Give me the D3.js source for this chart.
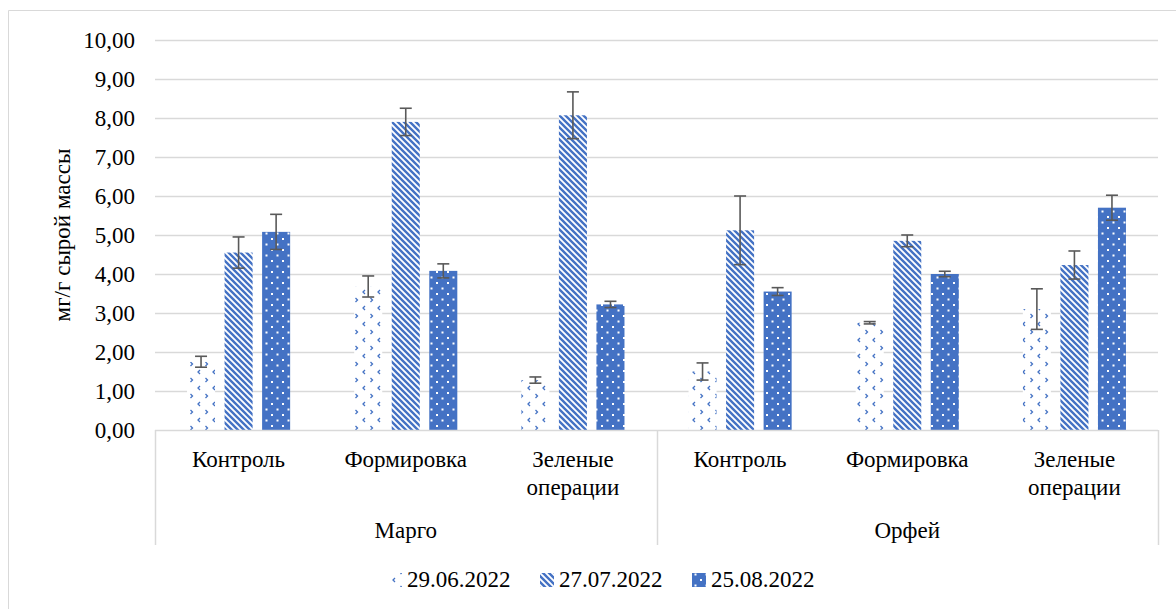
<!DOCTYPE html>
<html><head><meta charset="utf-8">
<script src="https://cdn.jsdelivr.net/npm/d3@7"></script>
<style>
html,body{margin:0;padding:0;background:#fff;}
svg text{font-family:"Liberation Serif","Tinos","Times New Roman","DejaVu Serif",serif;}
</style></head>
<body>
<svg id="c" width="1176" height="609" style="display:block" font-family="Liberation Serif, serif"></svg>
<script>
const groups = ["Марго", "Орфей"];
const categories = ["Контроль", "Формировка", "Зеленые операции"];
const seriesNames = ["29.06.2022", "27.07.2022", "25.08.2022"];
const s1 = [1.75, 3.68, 1.28, 1.50, 2.75, 3.10];
const e1 = [0.14, 0.27, 0.08, 0.22, 0.03, 0.52];
const s2 = [4.55, 7.90, 8.07, 5.12, 4.85, 4.23];
const e2 = [0.40, 0.35, 0.60, 0.88, 0.15, 0.36];
const s3 = [5.08, 4.08, 3.22, 3.55, 4.00, 5.70];
const e3 = [0.45, 0.18, 0.08, 0.10, 0.07, 0.32];
const yTicks = [0,1,2,3,4,5,6,7,8,9,10];

(function(){
const svg = d3.select("#c");
const W = 1176, H = 609;
const pLeft = 155, pRight = 1158, pTop = 40, pBottom = 430;
const blue = "#4472C4";
const FF = "Liberation Serif";

const defs = svg.append("defs");
const p1 = defs.append("pattern").attr("id","pat0").attr("patternUnits","userSpaceOnUse")
  .attr("width",15).attr("height",16);
p1.append("rect").attr("width",15).attr("height",16).attr("fill","#fff");
p1.append("path").attr("d","M5,2 L3,4 L5,6").attr("fill","none").attr("stroke",blue).attr("stroke-width",1.3);
p1.append("path").attr("d","M10.5,10 L12.5,12 L10.5,14").attr("fill","none").attr("stroke",blue).attr("stroke-width",1.3);

const p2 = defs.append("pattern").attr("id","pat1").attr("patternUnits","userSpaceOnUse")
  .attr("width",6).attr("height",6);
p2.append("rect").attr("width",6).attr("height",6).attr("fill","#fff");
p2.append("path").attr("d","M-1,-1 L7,7 M-4,2 L2,8 M2,-4 L8,2").attr("stroke",blue).attr("stroke-width",2.4);

const p3 = defs.append("pattern").attr("id","pat2").attr("patternUnits","userSpaceOnUse")
  .attr("width",11).attr("height",11);
p3.append("rect").attr("width",11).attr("height",11).attr("fill",blue);
p3.append("rect").attr("x",1.5).attr("y",1.5).attr("width",2).attr("height",2).attr("fill","#fff");
p3.append("rect").attr("x",7).attr("y",7).attr("width",2).attr("height",2).attr("fill","#fff");

svg.append("path").attr("d",`M8.5,${H+5} L8.5,10.5 L${W+5},10.5`).attr("fill","none").attr("stroke","#d9d9d9").attr("stroke-width",1);

const y = d3.scaleLinear().domain([0,10]).range([pBottom, pTop]);
const x = d3.scaleBand().domain(d3.range(6)).range([pLeft, pRight]).padding(0);
const xs = d3.scaleBand().domain([0,1,2]).range([0, x.bandwidth()]).paddingInner(0.253).paddingOuter(0.853);

svg.append("g").selectAll("line").data(yTicks.filter(d=>d>0)).join("line")
  .attr("x1",pLeft).attr("x2",pRight).attr("y1",d=>y(d)+0.5).attr("y2",d=>y(d)+0.5)
  .attr("stroke","#d9d9d9").attr("stroke-width",1.3);

const fmt = d => d.toFixed(2).replace(".", ",");
svg.append("g").selectAll("text").data(yTicks).join("text")
  .attr("x",135).attr("y",d=>y(d)).attr("dy","0.33em").attr("text-anchor","end")
  .attr("font-family",FF).attr("font-size",23).attr("fill","#000").text(fmt);

svg.append("text").attr("transform","translate(70,235) rotate(-90)").attr("text-anchor","middle")
  .attr("font-family",FF).attr("font-size",23).attr("fill","#000").text("мг/г сырой массы");

const series = [s1, s2, s3];
const errs = [e1, e2, e3];
series.forEach((vals, si) => {
  const g = svg.append("g");
  g.selectAll("rect").data(vals).join("rect")
    .attr("x",(d,i)=>x(i)+xs(si)).attr("width",xs.bandwidth())
    .attr("y",d=>y(d)).attr("height",d=>pBottom-y(d))
    .attr("fill",`url(#pat${si})`);
});

svg.append("line").attr("x1",pLeft).attr("x2",pRight).attr("y1",pBottom+0.5).attr("y2",pBottom+0.5)
  .attr("stroke","#d9d9d9").attr("stroke-width",1.5);
[pLeft, (pLeft+pRight)/2, pRight].forEach(xx => {
  svg.append("line").attr("x1",Math.round(xx)+0.5).attr("x2",Math.round(xx)+0.5)
    .attr("y1",pBottom).attr("y2",545).attr("stroke","#d9d9d9").attr("stroke-width",1.5);
});

series.forEach((vals, si) => {
  const g = svg.append("g").attr("stroke","#595959").attr("stroke-width",1.6).attr("fill","none");
  vals.forEach((v,i) => {
    const cx = x(i)+xs(si)+xs.bandwidth()/2;
    const e = errs[si][i];
    const y1 = y(v+e), y2 = y(v-e);
    g.append("line").attr("x1",cx).attr("x2",cx).attr("y1",y1).attr("y2",y2);
    g.append("line").attr("x1",cx-6).attr("x2",cx+6).attr("y1",y1).attr("y2",y1);
    g.append("line").attr("x1",cx-6).attr("x2",cx+6).attr("y1",y2).attr("y2",y2);
  });
});

const catLabels = d3.range(6).map(i => categories[i % 3]);
catLabels.forEach((lab, i) => {
  const cx = x(i) + x.bandwidth()/2;
  lab.split(" ").forEach((w, k) => {
    svg.append("text").attr("x",cx).attr("y",467 + k*28).attr("text-anchor","middle")
      .attr("font-family",FF).attr("font-size",23).attr("fill","#000").text(w);
  });
});
groups.forEach((gname, gi) => {
  const cx = (x(gi*3) + x(gi*3+2) + x.bandwidth())/2;
  svg.append("text").attr("x",cx).attr("y",538).attr("text-anchor","middle")
    .attr("font-family",FF).attr("font-size",23).attr("fill","#000").text(gname);
});

const legX = [388, 540, 692];
seriesNames.forEach((n, si) => {
  svg.append("rect").attr("x",legX[si]).attr("y",573).attr("width",14).attr("height",14)
    .attr("fill",`url(#pat${si})`);
  svg.append("text").attr("x",legX[si]+19).attr("y",587)
    .attr("font-family",FF).attr("font-size",23).attr("fill","#000").text(n);
});
})();
</script>
</body></html>
